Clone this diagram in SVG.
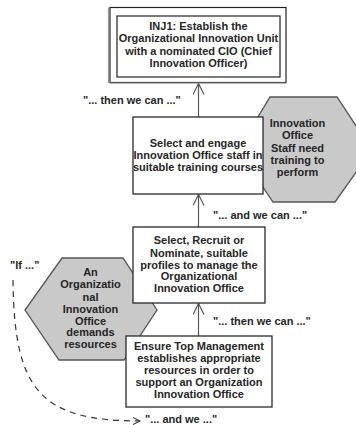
<svg xmlns="http://www.w3.org/2000/svg" width="356" height="425" viewBox="0 0 356 425">
  <style>
    text { font-family: "Liberation Sans", Arial, sans-serif; font-weight: bold; font-size: 11px; fill: #262626; }
    .c { text-anchor: middle; }
    .box { fill: #ffffff; stroke: #2a2a2a; stroke-width: 1.3; }
    .hex { fill: #c9c9c9; stroke: #555555; stroke-width: 1.3; }
    .link { fill: none; stroke: #555555; stroke-width: 1.2; marker-end: url(#open); }
    .dash { fill: none; stroke: #333333; stroke-width: 1.2; stroke-dasharray: 6 5; }
  </style>
  <defs>
    <marker id="open" viewBox="0 0 12 12" refX="11" refY="6" markerWidth="12" markerHeight="12" markerUnits="userSpaceOnUse" orient="auto">
      <path d="M0,0.5 L11,6 L0,11.5" fill="none" stroke="#555555" stroke-width="1.2"/>
    </marker>
    <marker id="small" viewBox="0 0 8 8" refX="7" refY="4" markerWidth="8" markerHeight="8" markerUnits="userSpaceOnUse" orient="auto">
      <path d="M0,0.5 L7,4 L0,7.5" fill="none" stroke="#333333" stroke-width="1.1"/>
    </marker>
  </defs>

  <rect width="356" height="425" fill="#ffffff"/>

  <!-- obstacle hexagons, drawn first so the action boxes sit on top -->
  <g id="obstacle-training">
    <polygon class="hex" points="270,97 337,97 372,150 335,202 273,202 238,150"/>
    <text class="c" x="297.5" y="127">Innovation</text>
    <text class="c" x="297.5" y="139">Office</text>
    <text class="c" x="297.5" y="151.5">Staff need</text>
    <text class="c" x="297.5" y="164">training to</text>
    <text class="c" x="297.5" y="176">perform</text>
  </g>

  <g id="obstacle-resources">
    <polygon class="hex" points="62,258 123,258 157,310 124,360 59,360 25,310"/>
    <text class="c" x="90.5" y="275.5">An</text>
    <text class="c" x="90.5" y="288">Organizatio</text>
    <text class="c" x="90.5" y="300.5">nal</text>
    <text class="c" x="90.5" y="312.5">Innovation</text>
    <text class="c" x="90.5" y="324.5">Office</text>
    <text class="c" x="90.5" y="336">demands</text>
    <text class="c" x="90.5" y="348">resources</text>
  </g>

  <!-- connectors -->
  <g id="connectors">
    <line class="link" x1="198.5" y1="117" x2="198.5" y2="83.5"/>
    <line class="link" x1="198.5" y1="227" x2="198.5" y2="194.5"/>
    <line class="link" x1="198.5" y1="336" x2="198.5" y2="303.5"/>
    <path class="dash" d="M13,280 C14,390 40,421 140,421" marker-end="url(#small)"/>
    <text x="83" y="104">"... then we can ..."</text>
    <text x="213" y="219">"... and we can ..."</text>
    <text x="213" y="325">"... then we can ..."</text>
    <text x="10" y="269">"If ..."</text>
    <text x="145" y="423">"... and we ..."</text>
  </g>

  <g id="objective">
    <line x1="108.5" y1="7.5" x2="108.5" y2="83" stroke="#9a9a9a" stroke-width="1.2"/>
    <rect x="110" y="7.5" width="176" height="75" fill="#ffffff" stroke="#222222" stroke-width="1.2"/>
    <line x1="109" y1="83" x2="286.5" y2="83" stroke="#8a8a8a" stroke-width="1.2"/>
    <rect x="117" y="16" width="163" height="61" fill="none" stroke="#222222" stroke-width="1.2"/>
    <text class="c" x="198.5" y="30">INJ1: Establish the</text>
    <text class="c" x="198.5" y="42.3">Organizational Innovation Unit</text>
    <text class="c" x="198.5" y="54.6">with a nominated CIO (Chief</text>
    <text class="c" x="198.5" y="67">Innovation Officer)</text>
  </g>

  <g id="engage-staff">
    <rect class="box" x="133" y="117" width="130" height="77"/>
    <text class="c" x="198" y="146.5">Select and engage</text>
    <text class="c" x="198" y="158.5">Innovation Office staff in</text>
    <text class="c" x="198" y="170.5">suitable training courses</text>
  </g>

  <g id="select-profiles">
    <rect class="box" x="133" y="227" width="132" height="76"/>
    <text class="c" x="199" y="244">Select, Recruit or</text>
    <text class="c" x="199" y="256.5">Nominate, suitable</text>
    <text class="c" x="199" y="268.5">profiles to manage the</text>
    <text class="c" x="199" y="280">Organizational</text>
    <text class="c" x="199" y="292">Innovation Office</text>
  </g>

  <g id="top-management">
    <rect class="box" x="126" y="336" width="146" height="71"/>
    <text class="c" x="199" y="350">Ensure Top Management</text>
    <text class="c" x="199" y="362">establishes appropriate</text>
    <text class="c" x="199" y="374">resources in order to</text>
    <text class="c" x="199" y="386">support an Organization</text>
    <text class="c" x="199" y="398">Innovation Office</text>
  </g>
</svg>
